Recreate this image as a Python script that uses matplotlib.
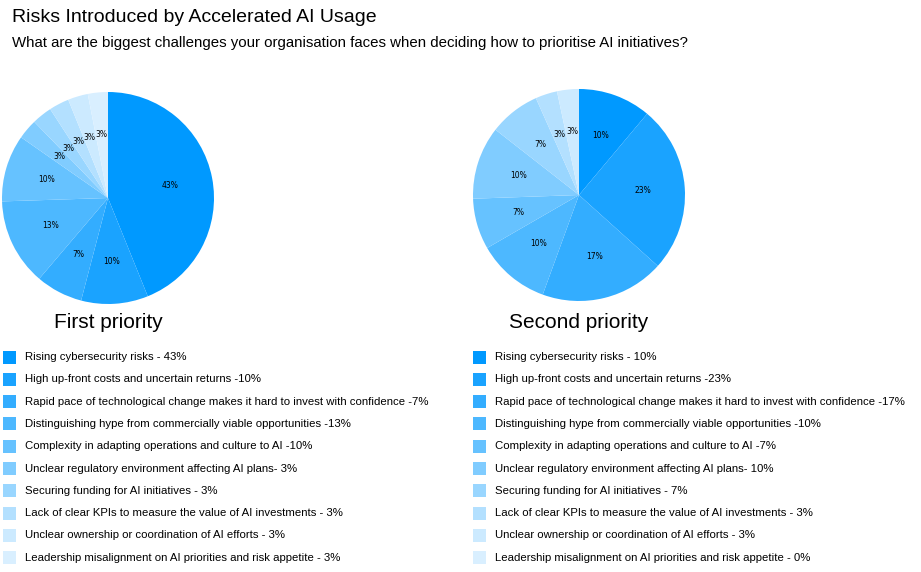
import matplotlib.pyplot as plt
from matplotlib.patches import Rectangle

categories = [
    "Rising cybersecurity risks",
    "High up-front costs and uncertain returns",
    "Rapid pace of technological change makes it hard to invest with confidence",
    "Distinguishing hype from commercially viable opportunities",
    "Complexity in adapting operations and culture to AI",
    "Unclear regulatory environment affecting AI plans",
    "Securing funding for AI initiatives",
    "Lack of clear KPIs to measure the value of AI investments",
    "Unclear ownership or coordination of AI efforts",
    "Leadership misalignment on AI priorities and risk appetite",
]
first_priority = [43, 10, 7, 13, 10, 3, 3, 3, 3, 3]
second_priority = [10, 23, 17, 10, 7, 10, 7, 3, 3, 0]

# legend texts exactly as in the source (spacing around the dash varies)
legend_first = [
    "Rising cybersecurity risks - 43%",
    "High up-front costs and uncertain returns -10%",
    "Rapid pace of technological change makes it hard to invest with confidence -7%",
    "Distinguishing hype from commercially viable opportunities -13%",
    "Complexity in adapting operations and culture to AI -10%",
    "Unclear regulatory environment affecting AI plans- 3%",
    "Securing funding for AI initiatives - 3%",
    "Lack of clear KPIs to measure the value of AI investments - 3%",
    "Unclear ownership or coordination of AI efforts - 3%",
    "Leadership misalignment on AI priorities and risk appetite - 3%",
]
legend_second = [
    "Rising cybersecurity risks - 10%",
    "High up-front costs and uncertain returns -23%",
    "Rapid pace of technological change makes it hard to invest with confidence -17%",
    "Distinguishing hype from commercially viable opportunities -10%",
    "Complexity in adapting operations and culture to AI -7%",
    "Unclear regulatory environment affecting AI plans- 10%",
    "Securing funding for AI initiatives - 7%",
    "Lack of clear KPIs to measure the value of AI investments - 3%",
    "Unclear ownership or coordination of AI efforts - 3%",
    "Leadership misalignment on AI priorities and risk appetite - 0%",
]

colors = ["#0099ff", "#1aa3ff", "#33adff", "#4db8ff", "#66c2ff",
          "#80ccff", "#99d6ff", "#b3e0ff", "#cceaff", "#d9efff"]

plt.rcParams['font.family'] = ['Liberation Sans', 'DejaVu Sans']

W, H = 921, 572
fig = plt.figure(figsize=(W / 100, H / 100), dpi=100)


def px_axes(x, y, w, h):
    return fig.add_axes([x / W, 1 - (y + h) / H, w / W, h / H])


def draw_pie(ax, values):
    vals = [v if v > 0 else 1e-9 for v in values]
    labels = [f"{v}%" if v > 0 else "" for v in values]
    ax.pie(vals, colors=colors, startangle=90, counterclock=False,
           labels=labels, labeldistance=0.6,
           textprops=dict(fontsize=5.5, family='DejaVu Sans',
                          ha='center', va='center'))
    ax.set_xlim(-1, 1)
    ax.set_ylim(-1, 1)
    ax.set_aspect('equal')
    ax.axis('off')


ax1 = px_axes(2, 92, 212, 212)
draw_pie(ax1, first_priority)
ax2 = px_axes(473, 89, 212, 212)
draw_pie(ax2, second_priority)

fig.text(12 / W, 1 - 17 / H, "Risks Introduced by Accelerated AI Usage",
         fontsize=14, va='center', ha='left')
fig.text(12 / W, 1 - 43 / H,
         "What are the biggest challenges your organisation faces when deciding how to prioritise AI initiatives?",
         fontsize=10.8, va='center', ha='left')
fig.text(108 / W, 1 - 323 / H, "First priority", fontsize=15, va='center', ha='center')
fig.text(579 / W, 1 - 323 / H, "Second priority", fontsize=15, va='center', ha='center')

for col_x, texts in [(3, legend_first), (473, legend_second)]:
    for i, (txt, c) in enumerate(zip(texts, colors)):
        y = 357 + i * 22.3
        fig.patches.append(Rectangle((col_x / W, 1 - (y + 6.5) / H), 13 / W, 13 / H,
                                     transform=fig.transFigure, facecolor=c,
                                     edgecolor='none'))
        fig.text((col_x + 22) / W, 1 - y / H, txt, fontsize=8.2, va='center', ha='left')

fig.savefig("out.png", dpi=100)
